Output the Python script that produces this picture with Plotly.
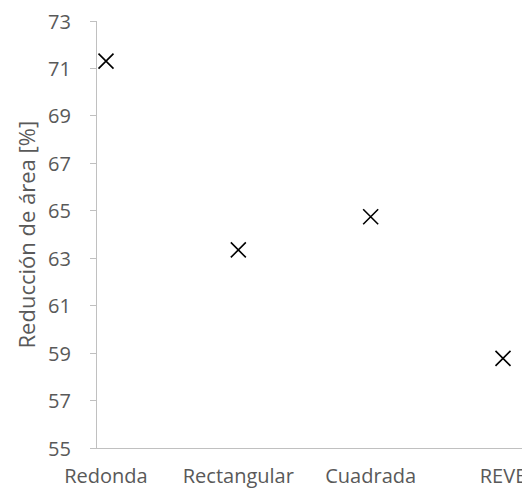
import plotly.graph_objects as go

categories = ["Redonda", "Rectangular", "Cuadrada", "REVE"]
reduccion_area = [71.31, 63.35, 64.75, 58.78]
y_ticks = [55, 57, 59, 61, 63, 65, 67, 69, 71, 73]
y_title = "Reducción de área [%]"

FONT = "Open Sans"
GREY = "#595959"
AXIS = "#c0c0c0"

fig = go.Figure(
    go.Scatter(
        x=categories,
        y=reduccion_area,
        mode="markers",
        marker=dict(symbol="x-thin", size=15, color="black",
                    line=dict(color="black", width=1.6)),
        showlegend=False,
        hoverinfo="x+y",
    )
)

# y tick labels placed as annotations for exact spacing from the axis
annotations = [
    dict(
        text=str(v),
        xref="paper", yref="y",
        x=0, y=v,
        xshift=-24,
        xanchor="right", yanchor="middle",
        showarrow=False,
        font=dict(family=FONT, size=20, color=GREY),
    )
    for v in y_ticks
]
annotations.append(
    dict(
        text=y_title,
        xref="paper", yref="paper",
        x=0, y=0.5,
        xshift=-72,
        xanchor="center", yanchor="middle",
        textangle=-90,
        showarrow=False,
        font=dict(family=FONT, size=22, color=GREY),
    )
)

# page body has an 8px default margin, so the figure is sized to fit inside it
fig.update_layout(
    width=522,
    height=483,
    margin=dict(l=89, r=0, t=13, b=43, autoexpand=False),
    paper_bgcolor="white",
    plot_bgcolor="white",
    font=dict(family=FONT, color=GREY, size=20),
    xaxis=dict(
        type="category",
        range=[-0.068, 3.204],
        automargin=False,
        showgrid=False,
        zeroline=False,
        showline=True,
        linecolor=AXIS,
        linewidth=1.3,
        ticks="",
        ticklabelstandoff=10,
        ticklabeloverflow="allow",
        tickfont=dict(family=FONT, size=20, color=GREY),
    ),
    yaxis=dict(
        range=[55, 73.001],
        tickvals=y_ticks,
        showticklabels=False,
        automargin=False,
        showgrid=False,
        zeroline=False,
        showline=True,
        linecolor=AXIS,
        linewidth=1.3,
        ticks="outside",
        ticklen=6,
        tickcolor=AXIS,
        tickwidth=1.3,
    ),
    annotations=annotations,
)

fig.write_html("out.html")
